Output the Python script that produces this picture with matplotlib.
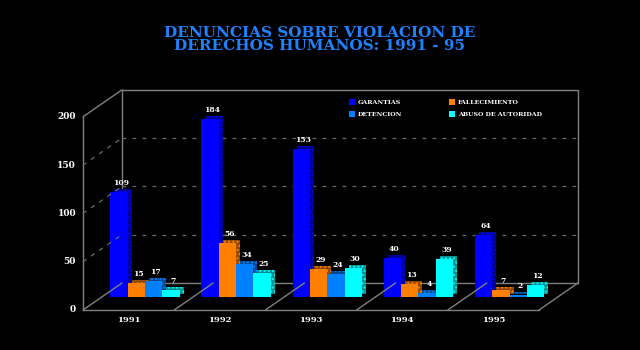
import numpy as np
import matplotlib.pyplot as plt
from matplotlib import transforms
from matplotlib.patches import ConnectionPatch

plt.rcParams['font.family'] = ['DejaVu Serif']
plt.rcParams['font.weight'] = 'bold'

# Denuncias por año y tipo
years = ['1991', '1992', '1993', '1994', '1995']
series_names = ['GARANTIAS', 'FALLECIMIENTO', 'DETENCION', 'ABUSO DE AUTORIDAD']
garantias = [109, 184, 153, 40, 64]
fallecimiento = [15, 56, 29, 13, 7]
detencion = [17, 34, 24, 4, 2]
abuso = [7, 25, 30, 39, 12]
yticks = [0, 50, 100, 150, 200]

colors = ['#0000ff', '#ff8000', '#0080ff', '#00ffff']
shades = ['#000090', '#904800', '#004890', '#009090']
values = [garantias, fallecimiento, detencion, abuso]

fig = plt.figure(figsize=(6.4, 3.5), dpi=100, facecolor='black')
ax = fig.add_axes([102 / 640, 53 / 350, 456 / 640, 193.2 / 350])
ax.set_xlim(0, 5)
ax.set_ylim(0, 200)
ax.axis('off')

# planes of the pseudo 3D box
front = transforms.offset_copy(ax.transData, fig=fig, x=-19, y=-13, units='dots')
back = transforms.offset_copy(ax.transData, fig=fig, x=20, y=14, units='dots')
depth = transforms.offset_copy(ax.transData, fig=fig, x=4, y=3, units='dots')
label_tr = transforms.offset_copy(ax.transData, fig=fig, x=2, y=5, units='dots')

frame = '#808080'
grid = '#6a6a6a'
lkw = dict(color=frame, lw=1, clip_on=False, zorder=1)
gkw = dict(color=grid, lw=0.9, ls=(0, (3, 5)), clip_on=False, zorder=1)
ax.plot([0, 0], [200, 0], transform=front, **lkw)
ax.plot([0, 5], [0, 0], transform=front, **lkw)
ax.plot([0, 0, 5, 5], [0, 200, 200, 0], transform=back, **lkw)
ax.plot([0, 5], [0, 0], transform=back, **lkw)
for v in yticks[1:-1]:
    ax.plot([0, 5], [v, v], transform=back, **gkw)


def connect(x, y, dashed=False):
    style = dict(color=grid, lw=0.9, ls=(0, (3, 5))) if dashed else dict(color=frame, lw=1)
    con = ConnectionPatch(xyA=(x, y), coordsA=front, xyB=(x, y), coordsB=back,
                          zorder=1, clip_on=False, **style)
    fig.add_artist(con)


connect(0, 200)
connect(0, 0)
connect(5, 0)
for k in range(1, 5):
    connect(k, 0)
for v in yticks[1:-1]:
    connect(0, v, dashed=True)

# bars, drawn left to right so each one covers the side of the previous
x = np.arange(len(years))
width = 0.19
handles = []
z = 2
for gi in range(len(years)):
    for si in range(len(series_names)):
        left = x[gi] + 0.09 + si * width
        val = values[si][gi]
        ax.bar(left, val, width, align='edge', color=shades[si], hatch='....',
               edgecolor=colors[si], lw=0, transform=depth, clip_on=False, zorder=z)
        b = ax.bar(left, val, width, align='edge', color=colors[si], lw=0,
                   clip_on=False, zorder=z + 0.5, label=series_names[si])
        if gi == 0:
            handles.append(b)
        ax.text(left + width / 2, val, str(val), transform=label_tr, ha='center',
                va='bottom', color='white', fontsize=5.5, zorder=50, clip_on=False)
        z += 1

for v in yticks:
    ax.text(0, v, str(v), transform=transforms.offset_copy(front, fig=fig, x=-7, y=0, units='dots'),
            ha='right', va='center', color='white', fontsize=6.5, clip_on=False)
for gi, yr in enumerate(years):
    ax.text(x[gi] + 0.5, 0, yr, transform=transforms.offset_copy(front, fig=fig, x=0, y=-10, units='dots'),
            ha='center', va='center', color='white', fontsize=6, clip_on=False)

fig.text(320 / 640, 1 - 33 / 350, 'DENUNCIAS SOBRE VIOLACION DE', color='#1e82ff',
         fontsize=11, ha='center', va='center')
fig.text(320 / 640, 1 - 45.5 / 350, 'DERECHOS HUMANOS: 1991 - 95', color='#1e82ff',
         fontsize=11, ha='center', va='center')

order = [0, 2, 1, 3]
fig.legend([handles[i] for i in order], [series_names[i] for i in order], ncol=2,
           loc='upper left', bbox_to_anchor=(346 / 640, 1 - 96 / 350), frameon=False,
           fontsize=4.5, labelcolor='white', handlelength=1.0, handleheight=1.0,
           handletextpad=0.4, columnspacing=7.5, labelspacing=1.0, borderpad=0)

fig.savefig('out.png', dpi=100, facecolor='black')
